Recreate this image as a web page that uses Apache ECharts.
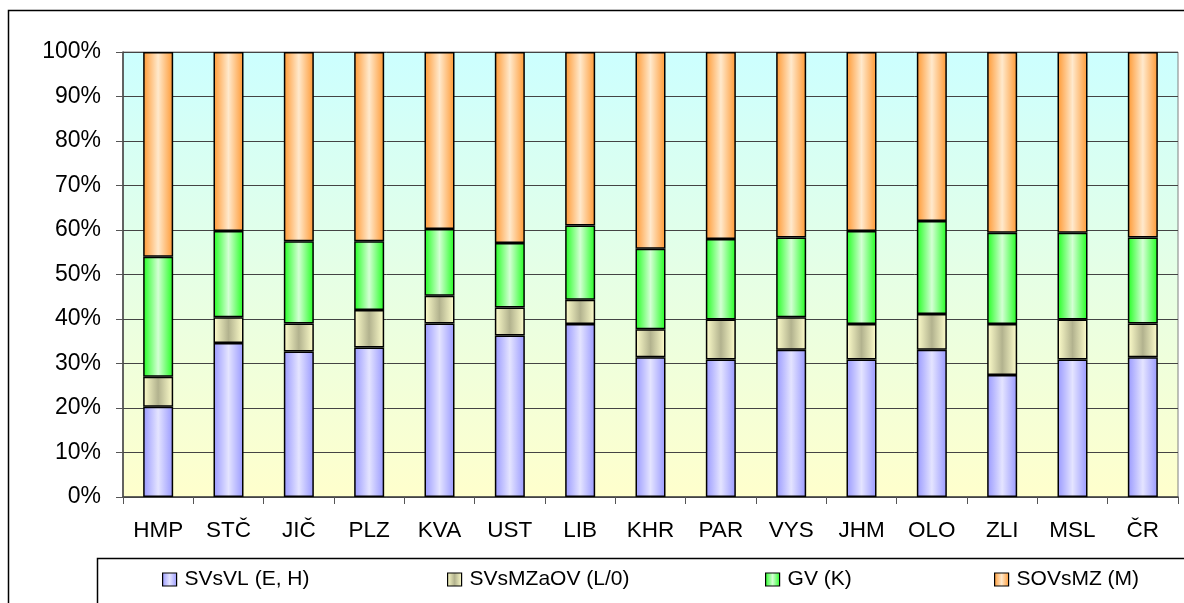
<!DOCTYPE html>
<html><head><meta charset="utf-8">
<script src="https://cdn.jsdelivr.net/npm/echarts@6/dist/echarts.min.js"></script>
<style>html,body{margin:0;padding:0;background:#fff}#c{width:1184px;height:603px}</style>
</head><body><div id="c"></div>
<script>
var categories = ['HMP','STČ','JIČ','PLZ','KVA','UST','LIB','KHR','PAR','VYS','JHM','OLO','ZLI','MSL','ČR'];
var seriesNames = ['SVsVL (E, H)','SVsMZaOV (L/0)','GV (K)','SOVsMZ (M)'];
var svsvl    = [20.3,34.6,32.7,33.6,39.0,36.3,38.9,31.4,30.9,33.1,30.9,33.1,27.4,30.9,31.4];
var svsmzaov = [6.7,5.8,6.3,8.4,6.2,6.3,5.4,6.3,9.0,7.3,8.0,8.0,11.5,9.0,7.6];
var gv       = [27.0,19.4,18.5,15.5,15.0,14.5,16.7,18.1,18.1,17.9,20.9,20.9,20.5,19.5,19.3];
var sovsmz   = [46.0,40.2,42.5,42.5,39.8,42.9,39.0,44.2,42.0,41.7,40.2,38.0,40.6,40.6,41.7];
var yTicks = [0,10,20,30,40,50,60,70,80,90,100];

function hgrad(edge, mid){
  return {type:'linear',x:0,y:0,x2:1,y2:0,colorStops:[
    {offset:0,color:edge},{offset:0.5,color:mid},{offset:1,color:edge}]};
}
var fills = [
  hgrad('#9999ff','#e4e4ff'),
  hgrad('#ffffcc','#b2b28e'),
  hgrad('#22ff22','#d4ffd4'),
  hgrad('#ff9933','#ffe9cc')
];
var values = [svsvl, svsmzaov, gv, sovsmz];
var font = 'Liberation Sans, Arial, sans-serif';

var series = values.map(function(v,i){
  return {name:seriesNames[i], type:'bar', stack:'a', data:v, barWidth:30,
    itemStyle:{color:fills[i], borderColor:'#000', borderWidth:1.5},
    emphasis:{disabled:true}};
});

var legendLefts = [162,447,765,994];
var legends = seriesNames.map(function(n,i){
  return {data:[n], left:legendLefts[i], top:569, padding:0, itemWidth:14, itemHeight:13, itemGap:6,
    icon:'rect', selectedMode:false,
    itemStyle:{borderColor:'#000',borderWidth:1.2},
    textStyle:{fontFamily:font,fontSize:21,color:'#000',padding:[0,0,0,3]}};
});

var chart = echarts.init(document.getElementById('c'));
chart.setOption({
  animation:false,
  backgroundColor:'#fff',
  grid:{left:123, top:52, width:1055, height:445, show:true, borderColor:'#808080', borderWidth:1,
    backgroundColor:{type:'linear',x:0,y:0,x2:0,y2:1,colorStops:[
      {offset:0,color:'#ccffff'},{offset:1,color:'#ffffcc'}]}},
  legend:legends,
  xAxis:{type:'category', data:categories,
    axisLine:{lineStyle:{color:'#444',width:1.5}},
    axisTick:{show:true,length:7,lineStyle:{color:'#555'}},
    axisLabel:{color:'#000',fontFamily:font,fontSize:22.5,margin:22}},
  yAxis:{type:'value', min:0, max:100, interval:10,
    axisLine:{show:true,lineStyle:{color:'#444',width:1.5}},
    axisTick:{show:true,length:7,lineStyle:{color:'#555'}},
    splitLine:{lineStyle:{color:'#444',width:1}},
    axisLabel:{color:'#000',fontFamily:font,fontSize:23,margin:22,
      formatter:function(v){return yTicks.indexOf(v)>=0 ? v+'%' : '';}}},
  series:series,
  graphic:[
    {type:'polyline', shape:{points:[[8.5,603],[8.5,10.5],[1184,10.5]]}, style:{stroke:'#000',lineWidth:1.5,fill:null}, silent:true},
    {type:'rect', shape:{x:97.5,y:558.5,width:1100,height:60}, style:{stroke:'#000',lineWidth:1.5,fill:'#fff'}, silent:true, z:-1}
  ]
});
</script></body></html>
